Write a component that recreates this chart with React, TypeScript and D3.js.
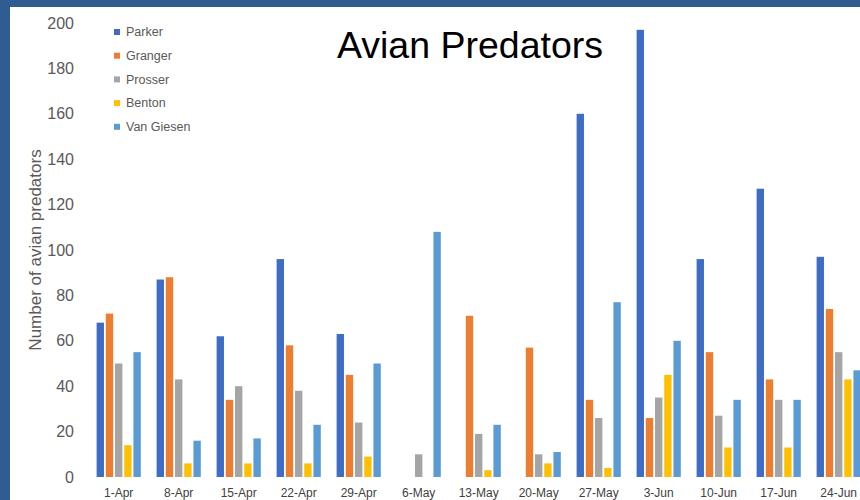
import React from "react";
import * as d3 from "d3";

const dates = ["1-Apr","8-Apr","15-Apr","22-Apr","29-Apr","6-May","13-May","20-May","27-May","3-Jun","10-Jun","17-Jun","24-Jun"];
const seriesNames = ["Parker","Granger","Prosser","Benton","Van Giesen"];
const seriesColors = ["#3f6dc6","#ED7D31","#A5A5A5","#FFC000","#5B9BD5"];
const parker = [68,87,62,96,63,0,0,0,160,197,96,127,97];
const granger = [72,88,34,58,45,0,71,57,34,26,55,43,74];
const prosser = [50,43,40,38,24,10,19,10,26,35,27,34,55];
const benton = [14,6,6,6,9,0,3,6,4,45,13,13,43];
const vanGiesen = [55,16,17,23,50,108,23,11,77,60,34,34,47];
const yTicks = [0,20,40,60,80,100,120,140,160,180,200];
const seriesValues = [parker, granger, prosser, benton, vanGiesen];

export default function App() {
  const W = 860, H = 500;
  const x0 = d3.scaleBand<string>().domain(dates).range([88.7, 868.7]).paddingInner(0.233).paddingOuter(0.1165);
  const x1 = d3.scaleBand<string>().domain(seriesNames).range([0, x0.bandwidth()]).paddingInner(0.2).paddingOuter(0.1);
  const y = d3.scaleLinear().domain([0, 200]).range([477, 23]);
  const font = "'Liberation Sans', Arial, sans-serif";

  return (
    <svg width={W} height={H} style={{ position: "absolute", left: 0, top: 0 }} fontFamily={font}>
      <rect x={0} y={0} width={W} height={H} fill="#2f5c91" />
      <rect x={10} y={7} width={W - 10} height={H - 7} fill="#ffffff" />
      {yTicks.map((t) => (
        <text key={t} x={74} y={y(t)} dy="0.35em" textAnchor="end" fontSize={16} fill="#595959">{t}</text>
      ))}
      <text transform={`translate(41,250) rotate(-90)`} textAnchor="middle" fontSize={17} fill="#595959">Number of avian predators</text>
      {dates.map((d, i) => (
        <g key={d} transform={`translate(${x0(d)},0)`}>
          {seriesNames.map((s, j) => {
            const v = seriesValues[j][i];
            if (!v) return null;
            return (
              <rect key={s} x={x1(s)} y={y(v)} width={x1.bandwidth()} height={y(0) - y(v)} fill={seriesColors[j]} />
            );
          })}
          <text x={x0.bandwidth() / 2} y={493} dy="0.35em" textAnchor="middle" fontSize={12} fill="#404040">{d}</text>
        </g>
      ))}
      <text x={470} y={58} textAnchor="middle" fontSize={37.5} fill="#000000">Avian Predators</text>
      {seriesNames.map((s, j) => (
        <g key={s} transform={`translate(114,${32 + j * 23.7})`}>
          <rect x={0} y={-3} width={6} height={6} fill={seriesColors[j]} />
          <text x={12} y={0} dy="0.35em" fontSize={12.5} fill="#595959">{s}</text>
        </g>
      ))}
    </svg>
  );
}
